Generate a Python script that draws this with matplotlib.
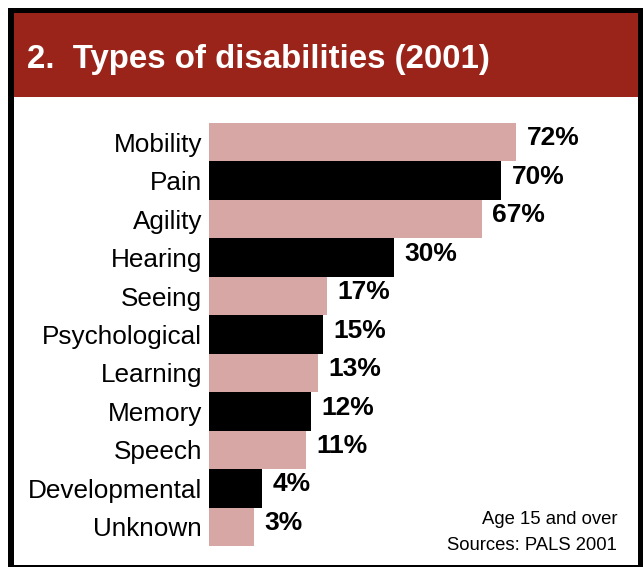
import matplotlib.pyplot as plt
from matplotlib.patches import Rectangle

plt.rcParams['font.family'] = ['Liberation Sans', 'DejaVu Sans']

# data
categories = ["Mobility", "Pain", "Agility", "Hearing", "Seeing", "Psychological",
              "Learning", "Memory", "Speech", "Developmental", "Unknown"]
value_labels = ["72%", "70%", "67%", "30%", "17%", "15%", "13%", "12%", "11%", "4%", "3%"]
# drawn bar lengths (the original bars are not to scale with the labels)
bar_lengths = [71.8, 68.3, 63.8, 43.2, 27.6, 26.6, 25.5, 23.8, 22.7, 12.4, 10.5]
bar_colors = ["#D6A7A4", "#000000"] * 6

W, H = 643, 567
fig = plt.figure(figsize=(W / 100, H / 100), dpi=100)


def box(x0, y0, x1, y1):
    # pixel box (top-left origin) -> figure fraction rect
    return (x0 / W, 1 - y1 / H), (x1 - x0) / W, (y1 - y0) / H


# frame, white panel and red banner
for (x0, y0, x1, y1), c in [((8, 8, 645, 569), "black"),
                            ((14, 13, 638, 565), "white"),
                            ((14, 13, 638, 97), "#9A2419")]:
    xy, w, h = box(x0, y0, x1, y1)
    fig.add_artist(Rectangle(xy, w, h, transform=fig.transFigure,
                             facecolor=c, edgecolor="none", zorder=0))

fig.text(27 / W, 1 - 68 / H, "2.  Types of disabilities (2001)", color="white",
         fontsize=23.8, fontweight="bold", ha="left", va="baseline")

ax_xy, ax_w, ax_h = box(209, 123, 637, 546)
ax = fig.add_axes([ax_xy[0], ax_xy[1], ax_w, ax_h])
ax.set_facecolor("none")
y = list(range(len(categories)))
ax.barh(y, bar_lengths, height=1.0, color=bar_colors[:len(categories)])
for yi, length, lab in zip(y, bar_lengths, value_labels):
    ax.text(length + 2.4, yi - 0.1, lab, fontsize=19, fontweight="bold",
            ha="left", va="center")

ax.set_xlim(0, 100)
ax.set_ylim(len(categories) - 0.5, -0.5)
ax.set_yticks(y)
ax.set_yticklabels(categories, fontsize=18.8)
ax.tick_params(axis="y", length=0, pad=5)
ax.set_xticks([])
for s in ax.spines.values():
    s.set_visible(False)

fig.text(617 / W, 1 - 520 / H, "Age 15 and over", fontsize=13.3, ha="right", va="center")
fig.text(617 / W, 1 - 546 / H, "Sources: PALS 2001", fontsize=13.3, ha="right", va="center")

fig.savefig("out.png", dpi=100)
